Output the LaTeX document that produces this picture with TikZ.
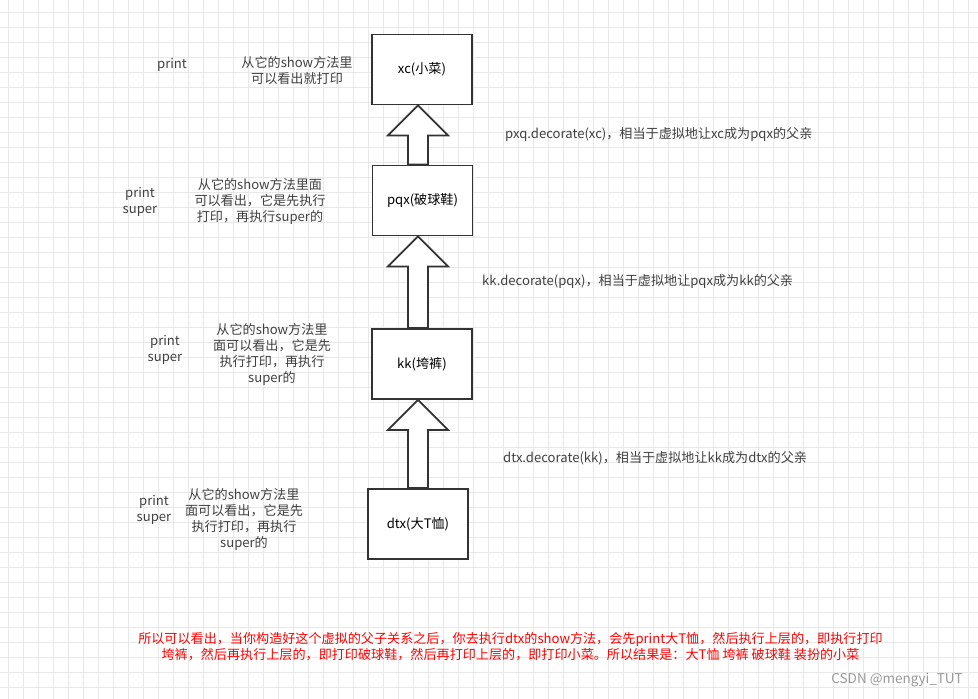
\documentclass[tikz,border=0pt]{standalone}
\usepackage{fontspec}
\setmainfont{Noto Sans CJK SC}
\usepackage{tikz}
\usetikzlibrary{calc}

\newcommand{\fatup}[2]{%
  \draw[fat] let \p1=(#1.north), \p2=(#2.south), \p3=(axis) in
    (\x3-10pt,\y1) -- (\x3-10pt,\y2-30pt) -- (\x3-30pt,\y2-30pt) -- (\x3,\y2)
    -- (\x3+30pt,\y2-30pt) -- (\x3+10pt,\y2-30pt) -- (\x3+10pt,\y1) -- cycle;}

\begin{document}
\begin{tikzpicture}[
  x=1pt,y=-1pt,
  box/.style={draw=black!80, line width=1.8pt, fill=white, minimum width=100pt, minimum height=70pt, inner sep=0pt, font=\txt},
  note/.style={align=center, inner sep=0pt, text=black!75, font=\txt},
  deco/.style={anchor=west, inner sep=0pt, text=black!75, font=\txt},
  fat/.style={draw=black!80, line width=1.8pt, fill=white, line join=miter},
  gridline/.style={draw=black!9, line width=0.8pt}
]
\def\txt{\fontsize{13.1}{16}\selectfont}
\useasboundingbox (0,0) rectangle (978,699);
\fill[white] (0,0) rectangle (978,699);
\foreach \gx in {8,23,...,978} \draw[gridline] (\gx,0) -- (\gx,699);
\foreach \gy in {12,27,...,699} \draw[gridline] (0,\gy) -- (978,\gy);

\coordinate (axis) at (418,0);
\node[box] (xc) at (422,69.5) {xc(小菜)};
\node[box] (pqx) at (422.5,200.5) {pqx(破球鞋)};
\node[box] (kk) at (422,364) {kk(垮裤)};
\node[box] (dtx) at (418,524) {dtx(大T恤)};
\fatup{pqx}{xc} \fatup{kk}{pqx} \fatup{dtx}{kk}

\node[note] (xcprint) at (172,65) {print};
\node[note] (xcnote) at (297,70.5) {从它的show方法里\\可以看出就打印};
\node[note] (pqxprint) at (140,201.5) {print\\super};
\node[note] (pqxnote) at (260,201) {从它的show方法里面\\可以看出，它是先执行\\打印，再执行super的};
\node[note] (kkprint) at (165,350) {print\\super};
\node[note] (kknote) at (272,354) {从它的show方法里\\面可以看出，它是先\\执行打印，再执行\\super的};
\node[note] (dtxprint) at (154,510) {print\\super};
\node[note] (dtxnote) at (244,519.5) {从它的show方法里\\面可以看出，它是先\\执行打印，再执行\\super的};

\node[deco] (xcdec) at (505,134) {pxq.decorate(xc)，相当于虚拟地让xc成为pqx的父亲};
\node[deco] (kkdec) at (482,281) {kk.decorate(pqx)，相当于虚拟地让pqx成为kk的父亲};
\node[deco] (dtxdec) at (503,458) {dtx.decorate(kk)，相当于虚拟地让kk成为dtx的父亲};

\node[note, text=red] (summary) at (510.5,646.5) {所以可以看出，当你构造好这个虚拟的父子关系之后，你去执行dtx的show方法，会先print大T恤，然后执行上层的，即执行打印\\垮裤，然后再执行上层的，即打印破球鞋，然后再打印上层的，即打印小菜。所以结果是：大T恤 垮裤 破球鞋 装扮的小菜};
\node[anchor=east, inner sep=0pt, text=black!40, font=\fontsize{13.5}{16}\selectfont] (mark) at (963,679.5) {CSDN @mengyi\_TUT};
\end{tikzpicture}
\end{document}
